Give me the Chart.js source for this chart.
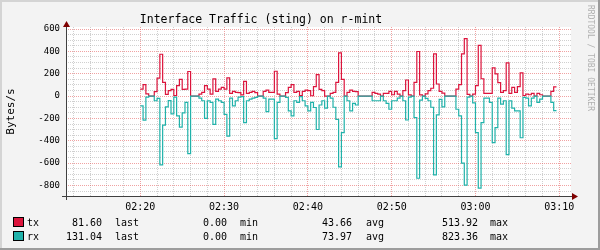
<!DOCTYPE html>
<html>
<head>
<meta charset="utf-8">
<script src="https://cdn.jsdelivr.net/npm/chart.js@4.4.1/dist/chart.umd.min.js"></script>
<style>
  html, body { margin: 0; padding: 0; background: #f3f3f3; }
</style>
</head>
<body>
<canvas id="canvas" width="600" height="250"></canvas>
<script>
// samples every 20 s from 02:20:00
const dataStart = '02:20';
const stepSec = 20;

const txValues = [
  63, 102, 20, 0, 0, 39, 160, 374, 123, 15,
  48, 60, 5, 93, 150, 60, 63, 220, 0, 0,
  0, 18, 33, 93, 63, 18, 154, 42, 63, 78,
  63, 162, 24, 42, 33, 30, 10, 132, 24, 33,
  42, 30, 0, 0, 42, 54, 33, 33, 222, 18,
  0, 0, 30, 78, 102, 33, 42, 5, 42, 54,
  48, 3, 84, 192, 60, 48, 0, 0, 24, 33,
  123, 387, 150, 0, 33, 54, 42, 40, 0, 0,
  0, 0, 0, 33, 24, 18, 0, 24, 24, 42,
  12, 42, 18, 0, 48, 144, 10, 0, 123, 399,
  10, 0, 20, 48, 70, 378, 108, 42, 27, 0,
  0, 0, 0, 63, 102, 378, 513.92, 15, 0, 18,
  93, 453, 155, 24, 24, 24, 252, 198, 120, 33,
  48, 297, 24, 78, 33, 84, 207, 5, 18, 12,
  24, 0, 24, 12, 0, 0, 0, 42, 81.60
];

// rx is plotted below the axis
const rxValues = [
  88, 216, 10, 0, 0, 42, 20, 615, 260, 96,
  40, 160, 10, 178, 277, 150, 57, 515, 0, 0,
  0, 18, 42, 199, 42, 57, 253, 27, 42, 57,
  163, 359, 18, 88, 42, 10, 5, 238, 42, 27,
  18, 12, 0, 0, 18, 139, 27, 27, 380, 57,
  0, 0, 12, 133, 178, 42, 57, 5, 42, 88,
  133, 57, 102, 299, 80, 42, 108, 0, 18, 100,
  208, 633, 327, 0, 42, 133, 66, 80, 0, 0,
  0, 0, 0, 42, 42, 42, 0, 42, 66, 118,
  42, 42, 18, 0, 42, 214, 10, 0, 193, 735,
  36, 0, 20, 42, 100, 705, 169, 30, 96, 0,
  0, 0, 0, 118, 178, 600, 796, 10, 0, 60,
  327, 823.36, 238, 18, 18, 57, 417, 283, 18, 72,
  42, 523, 42, 108, 133, 133, 373, 12, 18, 88,
  18, 0, 57, 27, 0, 0, 0, 57, 131.04
];

const timeTicks = ['02:20', '02:30', '02:40', '02:50', '03:00', '03:10'];
const yTicks = [600, 400, 200, 0, -200, -400, -600, -800];

const statNames = ['last', 'min', 'avg', 'max'];
const txStats = [81.60, 0.00, 43.66, 513.92];
const rxStats = [131.04, 0.00, 73.97, 823.36];

const toSec = s => {
  const [h, m] = s.split(':').map(Number);
  return h * 3600 + m * 60;
};

const axisStart = 7868;   // 02:11:08
const axisEnd = 11484;    // 03:11:24
const startSec = toSec(dataStart);

function toPoints(values, sign) {
  const pts = values.map((v, i) => ({ x: startSec + i * stepSec, y: sign * v }));
  // hold the last sample for its own interval
  pts.push({ x: startSec + values.length * stepSec, y: sign * values[values.length - 1] });
  return pts;
}

const MONO = '"DejaVu Sans Mono", monospace';
Chart.defaults.font.family = MONO;

const txColor = '#dc143c';
const rxColor = '#20b2aa';
const majorGrid = 'rgba(225, 70, 70, 0.5)';
const minorGrid = 'rgba(150, 150, 150, 0.45)';

const rrdFrame = {
  id: 'rrdFrame',
  beforeDraw(chart) {
    const ctx = chart.ctx;
    const a = chart.chartArea;
    ctx.save();
    ctx.fillStyle = '#f3f3f3';
    ctx.fillRect(0, 0, 600, 250);
    ctx.fillStyle = '#d4d4d4';
    ctx.fillRect(0, 0, 600, 2);
    ctx.fillRect(0, 0, 2, 250);
    ctx.fillStyle = '#9c9c9c';
    ctx.fillRect(598, 0, 2, 250);
    ctx.fillRect(0, 248, 600, 2);
    ctx.fillStyle = '#ffffff';
    ctx.fillRect(a.left, a.top, a.right - a.left, a.bottom - a.top);
    ctx.restore();
  },
  afterDraw(chart) {
    const ctx = chart.ctx;
    const a = chart.chartArea;
    ctx.save();

    // axes
    const ay = Math.round(a.bottom) + 0.5;
    const ax = Math.round(a.left) + 0.5;
    ctx.strokeStyle = '#404040';
    ctx.lineWidth = 1;
    ctx.beginPath();
    ctx.moveTo(a.left - 4, ay);
    ctx.lineTo(a.right + 2, ay);
    ctx.moveTo(ax, a.bottom + 4);
    ctx.lineTo(ax, a.top - 1);
    ctx.stroke();
    ctx.fillStyle = '#7f0000';
    ctx.beginPath();
    ctx.moveTo(a.right + 7, ay);
    ctx.lineTo(a.right + 1, ay - 3.5);
    ctx.lineTo(a.right + 1, ay + 3.5);
    ctx.closePath();
    ctx.fill();
    ctx.beginPath();
    ctx.moveTo(ax, a.top - 6);
    ctx.lineTo(ax - 3.5, a.top);
    ctx.lineTo(ax + 3.5, a.top);
    ctx.closePath();
    ctx.fill();

    // title
    ctx.fillStyle = '#000';
    ctx.font = '11.5px ' + MONO;
    ctx.textAlign = 'center';
    ctx.textBaseline = 'alphabetic';
    ctx.fillText('Interface Traffic (sting) on r-mint', 261, 23);

    // watermark
    ctx.save();
    ctx.translate(590, 5);
    ctx.rotate(Math.PI / 2);
    ctx.fillStyle = '#b0b0b0';
    ctx.font = '8px ' + MONO;
    ctx.textAlign = 'left';
    ctx.textBaseline = 'middle';
    ctx.fillText('RRDTOOL / TOBI OETIKER', 0, 0);
    ctx.restore();

    // legend
    const rows = [
      { name: 'tx', color: txColor, stats: txStats },
      { name: 'rx', color: rxColor, stats: rxStats }
    ];
    const valueRight = [102, 227, 352, 478];
    const nameLeft = [115, 240, 366, 490];
    ctx.font = '10px ' + MONO;
    rows.forEach((r, k) => {
      const base = 226 + k * 14;
      ctx.fillStyle = r.color;
      ctx.fillRect(13, base - 9, 11, 10);
      ctx.strokeStyle = '#000';
      ctx.strokeRect(13.5, base - 8.5, 10, 9);
      ctx.fillStyle = '#000';
      ctx.textAlign = 'left';
      ctx.fillText(r.name, 27, base);
      r.stats.forEach((v, j) => {
        ctx.textAlign = 'right';
        ctx.fillText(v.toFixed(2), valueRight[j], base);
        ctx.textAlign = 'left';
        ctx.fillText(statNames[j], nameLeft[j], base);
      });
    });
    ctx.restore();
  }
};

const ctx = document.getElementById('canvas').getContext('2d');

new Chart(ctx, {
  type: 'line',
  data: {
    datasets: [{
      label: 'tx',
      data: toPoints(txValues, 1),
      borderColor: txColor,
      borderWidth: 1.2,
      stepped: 'before',
      pointRadius: 0,
      fill: false,
      order: 1
    }, {
      label: 'rx',
      data: toPoints(rxValues, -1),
      borderColor: rxColor,
      borderWidth: 1.2,
      stepped: 'before',
      pointRadius: 0,
      fill: false,
      order: 0
    }]
  },
  options: {
    responsive: false,
    animation: false,
    events: [],
    layout: { padding: { left: 0, right: 29, top: 27, bottom: 0 } },
    plugins: {
      legend: { display: false },
      tooltip: { enabled: false }
    },
    scales: {
      x: {
        type: 'linear',
        min: axisStart,
        max: axisEnd,
        afterBuildTicks(scale) {
          const ticks = [];
          for (let v = Math.ceil(axisStart / 120) * 120; v <= axisEnd; v += 120) {
            ticks.push({ value: v });
          }
          scale.ticks = ticks;
        },
        afterFit(scale) { scale.height = 54; },
        ticks: {
          autoSkip: false,
          maxRotation: 0,
          padding: 5,
          color: '#000',
          font: { size: 10 },
          callback: v => timeTicks.find(t => toSec(t) === v) || ''
        },
        grid: {
          drawTicks: false,
          color: c => (c.tick && c.tick.value % 600 === 0) ? majorGrid : minorGrid
        },
        border: { display: false, dash: [1, 1] }
      },
      y: {
        min: -894,
        max: 618,
        afterBuildTicks(scale) {
          const ticks = [];
          for (let v = -850; v <= 600; v += 50) ticks.push({ value: v });
          scale.ticks = ticks;
        },
        afterFit(scale) { scale.width = 66; },
        ticks: {
          autoSkip: false,
          padding: 6,
          color: '#000',
          font: { size: 9 },
          callback: v => yTicks.includes(v) ? String(v) : ''
        },
        title: {
          display: true,
          text: 'Bytes/s',
          color: '#000',
          font: { size: 11 },
          padding: { top: 5, bottom: 0 }
        },
        grid: {
          drawTicks: false,
          color: c => (c.tick && yTicks.includes(c.tick.value)) ? majorGrid : minorGrid
        },
        border: { display: false, dash: [1, 1] }
      }
    }
  },
  plugins: [rrdFrame]
});
</script>
</body>
</html>
